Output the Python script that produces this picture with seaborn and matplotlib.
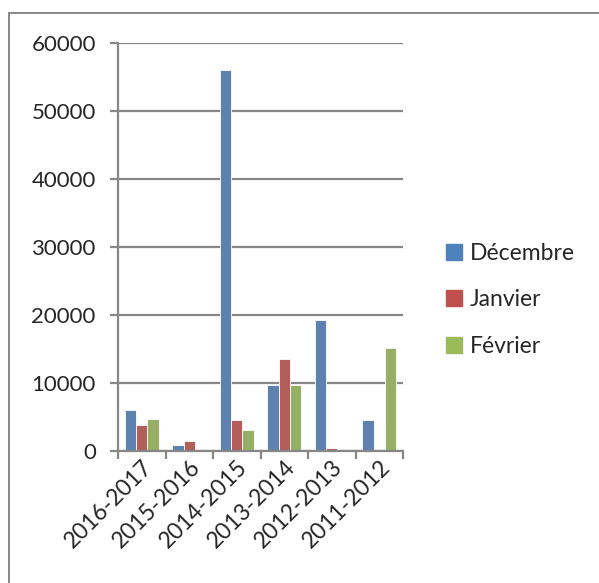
import seaborn as sns
import matplotlib.pyplot as plt
import pandas as pd
from matplotlib.lines import Line2D

# saisons et valeurs par mois
saisons = ['2016-2017', '2015-2016', '2014-2015', '2013-2014', '2012-2013', '2011-2012']
mois = ['Décembre', 'Janvier', 'Février']
decembre = [6000, 850, 56000, 9650, 19200, 4500]
janvier = [3800, 1400, 4500, 13600, 400, 200]
fevrier = [4750, 150, 3150, 9650, 50, 15100]
couleurs = ['#4F81BD', '#C0504D', '#9BBB59']

df = pd.DataFrame({'saison': saisons * 3,
                   'mois': [m for m in mois for _ in saisons],
                   'valeur': decembre + janvier + fevrier})

sns.set_style('white')
plt.rcParams['font.family'] = ['Lato', 'DejaVu Sans']
gris = '#878787'

fig = plt.figure(figsize=(5.99, 5.83), dpi=100)
ax = fig.add_axes([118 / 599, 1 - 451 / 583, 285 / 599, 408 / 583])

sns.barplot(data=df, x='saison', y='valeur', hue='mois', palette=couleurs,
            width=0.72, edgecolor='white', linewidth=0.6, legend=False, ax=ax)

ax.set_ylim(0, 60000)
ax.set_xlim(-0.5, 5.5)
ax.set_yticks(range(0, 60001, 10000))
ax.yaxis.grid(True, color=gris, linewidth=1.6)
ax.set_axisbelow(True)
ax.set_xlabel('')
ax.set_ylabel('')
for s in ['top', 'right']:
    ax.spines[s].set_visible(False)
for s in ['left', 'bottom']:
    ax.spines[s].set_color(gris)
    ax.spines[s].set_linewidth(1.6)

ax.tick_params(axis='y', left=True, length=6, width=1.6, color=gris,
               labelsize=16, pad=10)
ax.tick_params(axis='x', bottom=False, labelsize=16.5, pad=0)
ax.set_xticks([i - 0.5 for i in range(7)], minor=True)
ax.tick_params(axis='x', which='minor', bottom=True, length=6, width=1.6, color=gris)
plt.setp(ax.get_xticklabels(), rotation=45, ha='right', rotation_mode='anchor')

poignees = [Line2D([], [], marker='s', linestyle='', markersize=11,
                   markerfacecolor=c, markeredgecolor=c) for c in couleurs]
fig.legend(poignees, mois, loc='center left', bbox_to_anchor=(423 / 599, 1 - 300 / 583),
           frameon=False, fontsize=16.5, labelspacing=1.1, handletextpad=0.25,
           handlelength=0.9)

# cadre du graphique
fig.add_artist(Line2D([9 / 599, 9 / 599], [0, 1 - 13 / 583], transform=fig.transFigure,
                      color=gris, linewidth=1.4))
fig.add_artist(Line2D([9 / 599, 1], [1 - 13 / 583, 1 - 13 / 583], transform=fig.transFigure,
                      color=gris, linewidth=1.4))

plt.savefig('out.png', dpi=100)
